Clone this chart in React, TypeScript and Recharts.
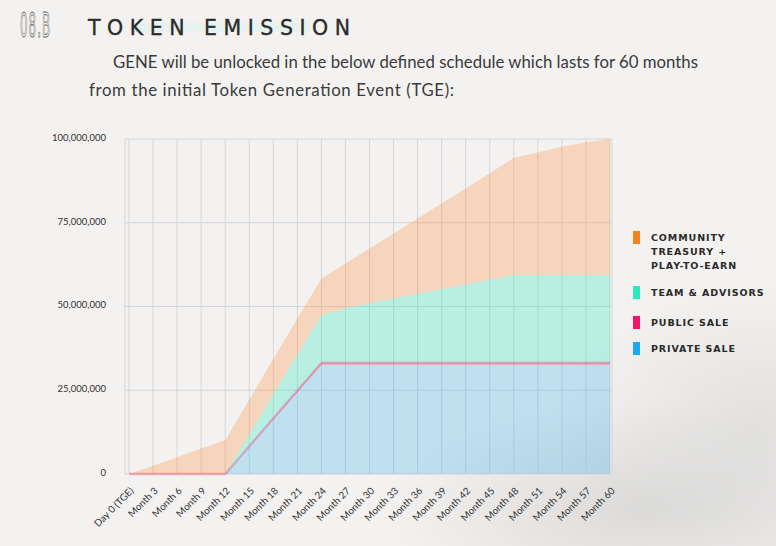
import React from 'react';
import { AreaChart, Area, XAxis, YAxis, CartesianGrid } from 'recharts';

const categories = [
  'Day 0 (TGE)', 'Month 3', 'Month 6', 'Month 9', 'Month 12', 'Month 15', 'Month 18',
  'Month 21', 'Month 24', 'Month 27', 'Month 30', 'Month 33', 'Month 36', 'Month 39',
  'Month 42', 'Month 45', 'Month 48', 'Month 51', 'Month 54', 'Month 57', 'Month 60',
];

// values in millions of GENE (cumulative unlocked per allocation)
const privateSale = [0, 0, 0, 0, 0, 8.1, 16.3, 24.4, 32.5, 32.5, 32.5, 32.5, 32.5, 32.5, 32.5, 32.5, 32.5, 32.5, 32.5, 32.5, 32.5];
const publicSale = [0, 0, 0, 0, 0, 0.2, 0.35, 0.5, 0.7, 0.7, 0.7, 0.7, 0.7, 0.7, 0.7, 0.7, 0.7, 0.7, 0.7, 0.7, 0.7];
const teamAdvisors = [0, 0, 0, 0, 0, 3.6, 7.2, 10.8, 14.3, 16.3, 17.8, 19.2, 20.6, 22, 23.4, 24.8, 26.2, 26.2, 26.2, 26.2, 26.2];
const community = [0, 2.5, 5, 7.6, 10.1, 10.3, 10.5, 10.7, 10.8, 13.3, 16.3, 19.4, 22.5, 25.6, 28.6, 31.8, 35, 36.6, 38.3, 39.6, 40.6];

const yTicks = [0, 25, 50, 75, 100];
const yTickLabels = ['0', '25,000,000', '50,000,000', '75,000,000', '100,000,000'];

const legendItems = [
  { key: 'community', lines: ['COMMUNITY', 'TREASURY +', 'PLAY-TO-EARN'], color: '#f7801f' },
  { key: 'team', lines: ['TEAM & ADVISORS'], color: '#2ee8c0' },
  { key: 'public', lines: ['PUBLIC SALE'], color: '#f0166a' },
  { key: 'private', lines: ['PRIVATE SALE'], color: '#1aa8f0' },
];

const data = categories.map((name, i) => ({
  name,
  privateSale: privateSale[i],
  publicSale: publicSale[i],
  team: teamAdvisors[i],
  community: community[i],
}));

const YTick = (props: any) => {
  const { x, y, payload } = props;
  const idx = yTicks.indexOf(payload.value);
  return (
    <text x={x} y={y - 1.5} textAnchor="end" dy="0.35em" fontSize={9.5} fill="#333" fontFamily="Lato, 'Open Sans', sans-serif">
      {yTickLabels[idx]}
    </text>
  );
};

const XTick = (props: any) => {
  const { x, y, payload } = props;
  return (
    <g transform={`translate(${x + 3}, ${y + 7})`}>
      <text x={0} y={0} dy="0.35em" textAnchor="end" transform="rotate(-45)" fontSize={9.8} fill="#333" fontFamily="Lato, 'Open Sans', sans-serif">
        {payload.value}
      </text>
    </g>
  );
};

const LegendBlock = () => {
  const tops = [231, 286, 316, 342];
  return (
    <div style={{ position: 'absolute', left: 633, top: 0 }}>
      {legendItems.map((it, i) => (
        <div key={it.key} style={{ position: 'absolute', left: 0, top: tops[i] }}>
          <div style={{ position: 'absolute', left: 0, top: 0, width: 7, height: 13, background: it.color }} />
          {it.lines.map((l, j) => (
            <div
              key={j}
              style={{
                position: 'absolute',
                left: 18,
                top: j * 14 + 1,
                whiteSpace: 'nowrap',
                fontFamily: "'DejaVu Sans', sans-serif",
                fontWeight: 700,
                fontSize: 9.5,
                letterSpacing: 0.9,
                color: '#2a2a2a',
                lineHeight: '12px',
              }}
            >
              {l}
            </div>
          ))}
        </div>
      ))}
    </div>
  );
};

export default function App() {
  return (
    <div
      style={{
        position: 'absolute',
        left: 0,
        top: 0,
        width: 776,
        height: 546,
        overflow: 'hidden',
        background:
          'radial-gradient(ellipse 260px 110px at 640px 510px, rgba(200,200,200,0.55), rgba(220,220,220,0) 100%), radial-gradient(ellipse 200px 140px at 760px 420px, rgba(205,205,205,0.45), rgba(220,220,220,0) 100%), #f4f2f0',
      }}
    >
      <svg width={776} height={110} style={{ position: 'absolute', left: 0, top: 0 }}>
        <rect x={130} y={23} width={180} height={9} fill="#d9efe9" opacity={0.5} />
        <text
          x={20}
          y={37}
          transform="translate(20,0) scale(0.36,1) translate(-20,0)"
          fontFamily="'DejaVu Sans', sans-serif"
          fontSize={33}
          fill="none"
          stroke="#666"
          strokeWidth={1}
          textLength={84}
          lengthAdjust="spacing"
          style={{ transformBox: 'view-box' }}
        >
          <tspan>08.B</tspan>
        </text>
        <text
          x={88}
          y={35}
          fontFamily="'DejaVu Sans', sans-serif"
          fontSize={20.5}
          fill="#2b2b2b"
          stroke="#2b2b2b"
          strokeWidth={0.35}
          textLength={262}
          lengthAdjust="spacing"
        >
          TOKEN EMISSION
        </text>
        <text x={113} y={68} fontFamily="Lato, sans-serif" fontSize={16.8} fill="#3a3a3a" textLength={585} lengthAdjust="spacing">
          GENE will be unlocked in the below defined schedule which lasts for 60 months
        </text>
        <text x={89} y={96} fontFamily="Lato, sans-serif" fontSize={16.8} fill="#3a3a3a" textLength={365} lengthAdjust="spacing">
          from the initial Token Generation Event (TGE):
        </text>
      </svg>
      <div style={{ position: 'absolute', left: 0, top: 0 }}>
        <AreaChart width={776} height={546} data={data} margin={{ top: 139, right: 164, bottom: 0, left: 0 }}>
          <CartesianGrid stroke="#d6d6da" strokeWidth={1} />
          <XAxis
            dataKey="name"
            height={72}
            padding={{ left: 4, right: 2 }}
            axisLine={false}
            tickLine={false}
            interval={0}
            tick={<XTick />}
          />
          <YAxis
            width={125}
            domain={[0, 100]}
            ticks={yTicks}
            axisLine={false}
            tickLine={false}
            tickSize={0}
            tickMargin={19}
            tick={<YTick />}
          />
          <Area type="linear" dataKey="privateSale" stackId="1" stroke="none" fill="#1aa8f0" fillOpacity={0.24} isAnimationActive={false} />
          <Area type="linear" dataKey="publicSale" stackId="1" stroke="#f0166a" strokeOpacity={0.3} strokeWidth={2.5} fill="#f0166a" fillOpacity={0.3} isAnimationActive={false} />
          <Area type="linear" dataKey="team" stackId="1" stroke="none" fill="#2ee8c0" fillOpacity={0.3} isAnimationActive={false} />
          <Area type="linear" dataKey="community" stackId="1" stroke="none" fill="#ff7f1e" fillOpacity={0.25} isAnimationActive={false} />
        </AreaChart>
      </div>
      <LegendBlock />
    </div>
  );
}
